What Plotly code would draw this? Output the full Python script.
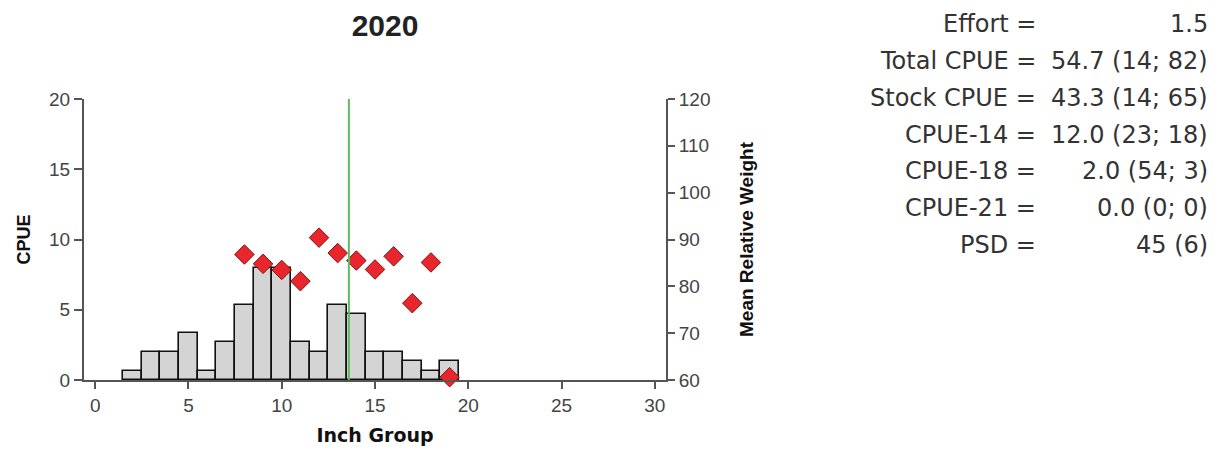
import plotly.graph_objects as go

# ---- data ----
inch_groups = [2, 3, 4, 5, 6, 7, 8, 9, 10, 11, 12, 13, 14, 15, 16, 17, 18, 19]
cpue = [0.67, 2.0, 2.0, 3.33, 0.67, 2.67, 5.33, 8.0, 8.0, 2.67, 2.0, 5.33, 4.67, 2.0, 2.0, 1.33, 0.67, 1.33]

wr_groups = [8, 9, 10, 11, 12, 13, 14, 15, 16, 17, 18, 19]
mean_wr = [86.8, 84.8, 83.5, 81.1, 90.4, 87.1, 85.5, 83.6, 86.4, 76.4, 85.1, 60.6]

ref_line_x = 13.6

title_text = "2020"
stat_labels = ["Effort =", "Total CPUE =", "Stock CPUE =", "CPUE-14 =", "CPUE-18 =", "CPUE-21 =", "PSD ="]
stat_values = ["1.5", "54.7 (14; 82)", "43.3 (14; 65)", "12.0 (23; 18)", "2.0 (54; 3)", "0.0 (0; 0)", "45 (6)"]

# ---- geometry (pixels) ----
W, H = 1225, 449
L, R, T, B = 84, 666, 99, 380

def px_x(p):
    return (p - L) / (R - L)

def px_y(p):
    return (B - p) / (B - T)

fig = go.Figure()

fig.add_trace(go.Bar(
    x=inch_groups, y=cpue, width=1,
    marker=dict(color="#d4d4d4", line=dict(color="#111111", width=1.6)),
    showlegend=False, hoverinfo="x+y",
))

fig.add_trace(go.Scatter(
    x=wr_groups, y=mean_wr, yaxis="y2", mode="markers",
    marker=dict(symbol="diamond", size=15, color="#e8262c",
                line=dict(color="#7a1416", width=1)),
    showlegend=False, cliponaxis=False,
))

fig.add_shape(type="line", xref="x", yref="y",
              x0=ref_line_x, x1=ref_line_x, y0=-0.55, y1=20,
              line=dict(color="#5fba5f", width=2))

tickfont = dict(family="Liberation Sans, Arial", size=19, color="#444444")
axcol = "#555555"

fig.update_layout(
    width=W, height=H, autosize=False,
    margin=dict(l=L, r=W - R, t=T, b=H - B, pad=0),
    paper_bgcolor="white", plot_bgcolor="white",
    bargap=0,
    xaxis=dict(range=[-0.6, 30.6], tickvals=[0, 5, 10, 15, 20, 25, 30],
               automargin=False,
               ticks="outside", ticklen=7, tickwidth=2, tickcolor=axcol,
               showline=True, linecolor=axcol, linewidth=2,
               showgrid=False, zeroline=False, tickfont=tickfont,
               title=dict(text="<b>Inch Group</b>", standoff=14,
                          font=dict(family="DejaVu Sans", size=19, color="#111111"))),
    yaxis=dict(range=[0, 20], tickvals=[0, 5, 10, 15, 20],
               automargin=False,
               ticks="outside", ticklen=8, tickwidth=2, tickcolor=axcol,
               showline=True, linecolor=axcol, linewidth=2,
               showgrid=False, zeroline=False, tickfont=tickfont,
               title=dict(text="<b>CPUE</b>", standoff=14,
                          font=dict(family="Liberation Sans, Arial", size=18, color="#111111"))),
    yaxis2=dict(range=[60, 120], tickvals=[60, 70, 80, 90, 100, 110, 120],
                automargin=False,
                overlaying="y", side="right",
                ticks="outside", ticklen=7, tickwidth=2, tickcolor=axcol,
                showline=True, linecolor=axcol, linewidth=2,
                showgrid=False, zeroline=False, tickfont=tickfont,
                title=dict(text="<b>Mean Relative Weight</b>", standoff=30,
                           font=dict(family="Liberation Sans, Arial", size=19, color="#111111"))),
    title=dict(text="<b>" + title_text + "</b>", x=px_x(385), xref="paper",
               y=1 - 25 / H, yref="container", xanchor="center", yanchor="middle",
               font=dict(family="Liberation Sans, Arial", size=30, color="#222222")),
)

row_y = [24, 61, 98, 135, 171, 208, 245]
sfont = dict(family="DejaVu Sans", size=24, color="#333333")
for lab, val, yy in zip(stat_labels, stat_values, row_y):
    fig.add_annotation(text=lab, xref="paper", yref="paper", x=px_x(1038), y=px_y(yy),
                       xanchor="right", yanchor="middle", showarrow=False, font=sfont)
    fig.add_annotation(text=val, xref="paper", yref="paper", x=px_x(1210), y=px_y(yy),
                       xanchor="right", yanchor="middle", showarrow=False, font=sfont)

fig.write_html("out.html", config={"displayModeBar": False},
               post_script="document.body.style.margin='0';")
